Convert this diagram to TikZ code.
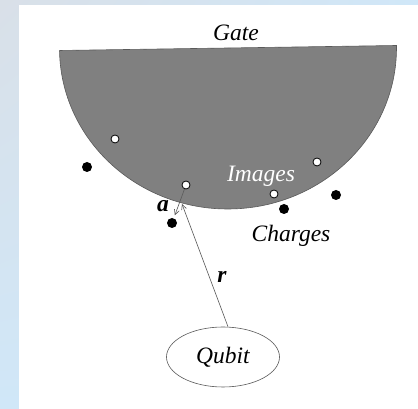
\documentclass[tikz,border=0pt]{standalone}
\usepackage{fontspec}
\setmainfont{Liberation Serif}
\usetikzlibrary{shapes.geometric,arrows.meta,shadings}
\definecolor{gatefill}{HTML}{808080}
\definecolor{linegray}{HTML}{5A5A5A}
\definecolor{bgtl}{HTML}{D9E0E8}
\definecolor{bgblue}{HTML}{D0E7F8}
\begin{document}
\begin{tikzpicture}[x=1pt, y=1pt, >={Straight Barb[length=5pt,width=5pt]},
	every node/.style={font=\fontsize{23.5}{27}\selectfont\itshape},
	image/.style={circle, draw=black, fill=white, line width=0.8pt, inner sep=0pt, minimum size=8pt},
	charge/.style={circle, fill=black, inner sep=0pt, minimum size=10pt},
	lbl/.style={anchor=base, inner sep=0pt}]
	\useasboundingbox (0,0) rectangle (418,409);
	\shade[upper left=bgtl, upper right=bgblue, lower left=bgblue, lower right=bgblue]
		(0,0) rectangle (418,409);
	\fill[white] (19,0) rectangle (418,404);
	% Gate als Halbscheibe
	\begin{scope}[rotate around={0.85:(228,361)}]
		\filldraw[fill=gatefill, draw=linegray, line width=0.6pt]
			(59.5,361) -- (396.5,361) arc[start angle=0, end angle=-180, x radius=168.5, y radius=161] -- cycle;
	\end{scope}
	\node[lbl] (gate) at (236,368) {Gate};
	\node[lbl, text=white] (images) at (261,227) {Images};
	\node[lbl] (charges) at (291,167) {Charges};
	
	\node[image] (i1) at (115,270) {};
	\node[image] (i2) at (186,224) {};
	\node[image] (i3) at (317,247) {};
	\node[image] (i4) at (274,215) {};
	\node[charge] (c1) at (172,186) {};
	\node[charge] (c2) at (87,242) {};
	\node[charge] (c3) at (284,200) {};
	\node[charge] (c4) at (336,214) {};
	
	\node[draw=linegray, ellipse, line width=0.6pt, minimum width=113pt, minimum height=60pt, inner sep=0pt] (qubit) at (223,52) {Qubit};
	\coordinate (surf) at (182,205);
	
	\draw[->, linegray, line width=0.6pt] ([xshift=5pt]qubit.north) -- (surf);
	\draw[->, linegray, line width=0.6pt, shorten >=3pt] (i2) -- (c1);
	\node[lbl, font=\fontsize{23.5}{27}\selectfont\bfseries\itshape] (a) at (163,197) {a};
	\node[lbl, font=\fontsize{23.5}{27}\selectfont\bfseries\itshape] (r) at (222,126) {r};
\end{tikzpicture}
\end{document}
